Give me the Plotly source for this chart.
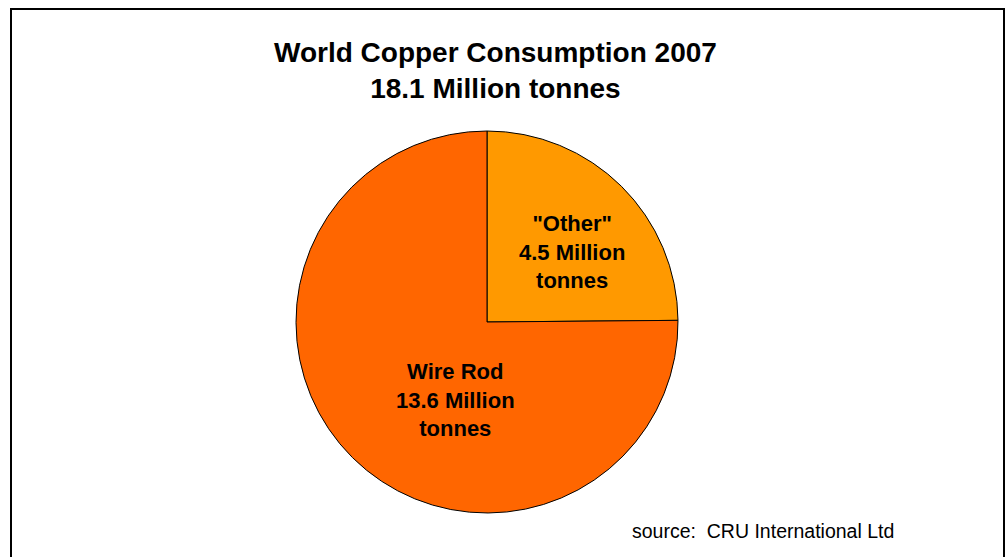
import plotly.graph_objects as go

# Data
labels = ['"Other"', "Wire Rod"]
values = [4.5, 13.6]
colors = ["#FF9900", "#FF6600"]
total_label = "18.1 Million tonnes"
title_line = "World Copper Consumption 2007"
source_text = "source:  CRU International Ltd"

W, H = 1005, 557

def px(x):
    return x / W

def py(y):
    return 1 - y / H

fig = go.Figure()
fig.add_trace(go.Pie(
    labels=labels,
    values=values,
    sort=False,
    direction="clockwise",
    rotation=0,
    marker=dict(colors=colors, line=dict(color="#000000", width=1)),
    textinfo="none",
    hoverinfo="label+value",
    showlegend=False,
    domain=dict(x=[px(296), px(678)], y=[py(513), py(131)]),
))

# slice label positions (text placement only)
label_pos = [(572, 252), (455, 400)]
for lab, val, (lx, ly) in zip(labels, values, label_pos):
    fig.add_annotation(
        x=px(lx), y=py(ly), xref="paper", yref="paper",
        text=f"<b>{lab}<br>{val} Million<br>tonnes</b>",
        showarrow=False, xanchor="center", yanchor="middle",
        font=dict(family="Liberation Sans, Arial", size=22, color="#000000"),
        align="center",
    )

fig.add_annotation(
    x=px(495), y=py(70), xref="paper", yref="paper",
    text=f"<b>{title_line}<br>{total_label}</b>",
    showarrow=False, xanchor="center", yanchor="middle",
    font=dict(family="Liberation Sans, Arial", size=28, color="#000000"),
    align="center",
)

fig.add_annotation(
    x=px(630), y=py(531), xref="paper", yref="paper",
    text=source_text,
    showarrow=False, xanchor="left", yanchor="middle",
    font=dict(family="Liberation Sans, Arial", size=19.5, color="#000000"),
)

# outer border
fig.add_shape(
    type="rect", xref="paper", yref="paper",
    x0=px(11), x1=px(1004), y0=py(570), y1=py(9),
    line=dict(color="#000000", width=2),
    fillcolor="rgba(0,0,0,0)",
)

fig.update_layout(
    width=W, height=H,
    margin=dict(l=0, r=0, t=0, b=0),
    paper_bgcolor="#FFFFFF",
    plot_bgcolor="#FFFFFF",
)

fig.write_html("out.html")
